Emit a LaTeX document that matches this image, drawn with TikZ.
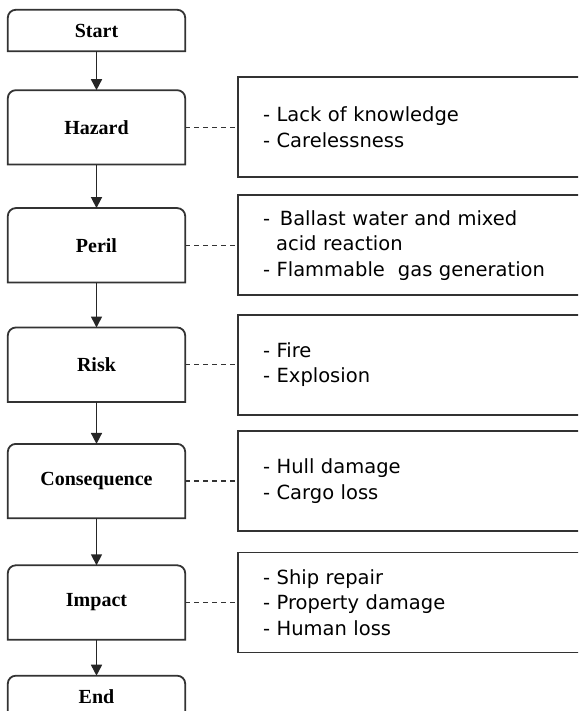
\documentclass[tikz,border=0pt]{standalone}
\usepackage{fontspec}
\setmainfont{Liberation Serif}
\newfontfamily\notefont{DejaVu Sans}
\usetikzlibrary{arrows.meta, positioning}
\tikzset{
    flowblock/.style={rectangle, text centered, font=\fontsize{20}{24}\selectfont\bfseries, minimum width=177pt, minimum height=74pt, inner sep=0pt},
    endblock/.style={flowblock, minimum height=41pt},
    noteblock/.style={rectangle, draw=black!80, line width=1.8pt, minimum width=353pt, minimum height=100pt, text width=303pt, align=left, inner xsep=25pt, inner ysep=0pt, font=\notefont\fontsize{19.5}{25.5}\selectfont},
    arrow/.style={line width=1.6pt, -{Triangle[width=11pt,length=11pt]}, color=black!85},
    link/.style={line width=1.5pt, dash pattern=on 5pt off 4pt, color=black!80},
    rim/.style={line width=1.8pt, color=black!80}
}

\begin{document}
\begin{tikzpicture}[x=1pt, y=1pt]
    \useasboundingbox (0,0) rectangle (578,-711);
    \clip (0,0) rectangle (578,-711);

    % process chain
    \node (start) [endblock] at (96.5,-30.5) {Start};
    \node (hazard) [flowblock, below=39pt of start] {Hazard};
    \node (peril) [flowblock, below=43.5pt of hazard] {Peril};
    \node (risk) [flowblock, below=45pt of peril] {Risk};
    \node (conseq) [flowblock, below=42pt of risk] {Consequence};
    \node (impact) [flowblock, below=47pt of conseq] {Impact};
    \node (stop) [endblock, below=36pt of impact] {End};

    % top corners rounded, bottom corners square
    \foreach \n in {start,hazard,peril,risk,conseq,impact,stop}
        \draw [rim] (\n.south west) -- ([yshift=-8pt]\n.north west) arc[start angle=180, end angle=90, radius=8pt] -- ([xshift=-8pt]\n.north east) arc[start angle=90, end angle=0, radius=8pt] -- (\n.south east) -- cycle;

    % notes
    \node (hazardnote) [noteblock, right=52pt of hazard] {- Lack of knowledge\\- Carelessness};
    \node (perilnote) [noteblock, right=52pt of peril] {- \,Ballast water and mixed\\\hspace*{13pt}acid reaction\\- Flammable~~gas generation};
    \node (risknote) [noteblock, right=52pt of risk] {- Fire\\- Explosion};
    \node (conseqnote) [noteblock, right=52pt of conseq] {- Hull damage\\- Cargo loss};
    \node (impactnote) [noteblock, right=52pt of impact] {- Ship repair\\- Property damage\\- Human loss};

    \draw [arrow] (start) -- (hazard);
    \draw [arrow] (hazard) -- (peril);
    \draw [arrow] (peril) -- (risk);
    \draw [arrow] (risk) -- (conseq);
    \draw [arrow] (conseq) -- (impact);
    \draw [arrow] (impact) -- (stop);

    \foreach \n in {hazard,peril,risk,conseq,impact}
        \draw [link] (\n) -- (\n note);
\end{tikzpicture}
\end{document}
